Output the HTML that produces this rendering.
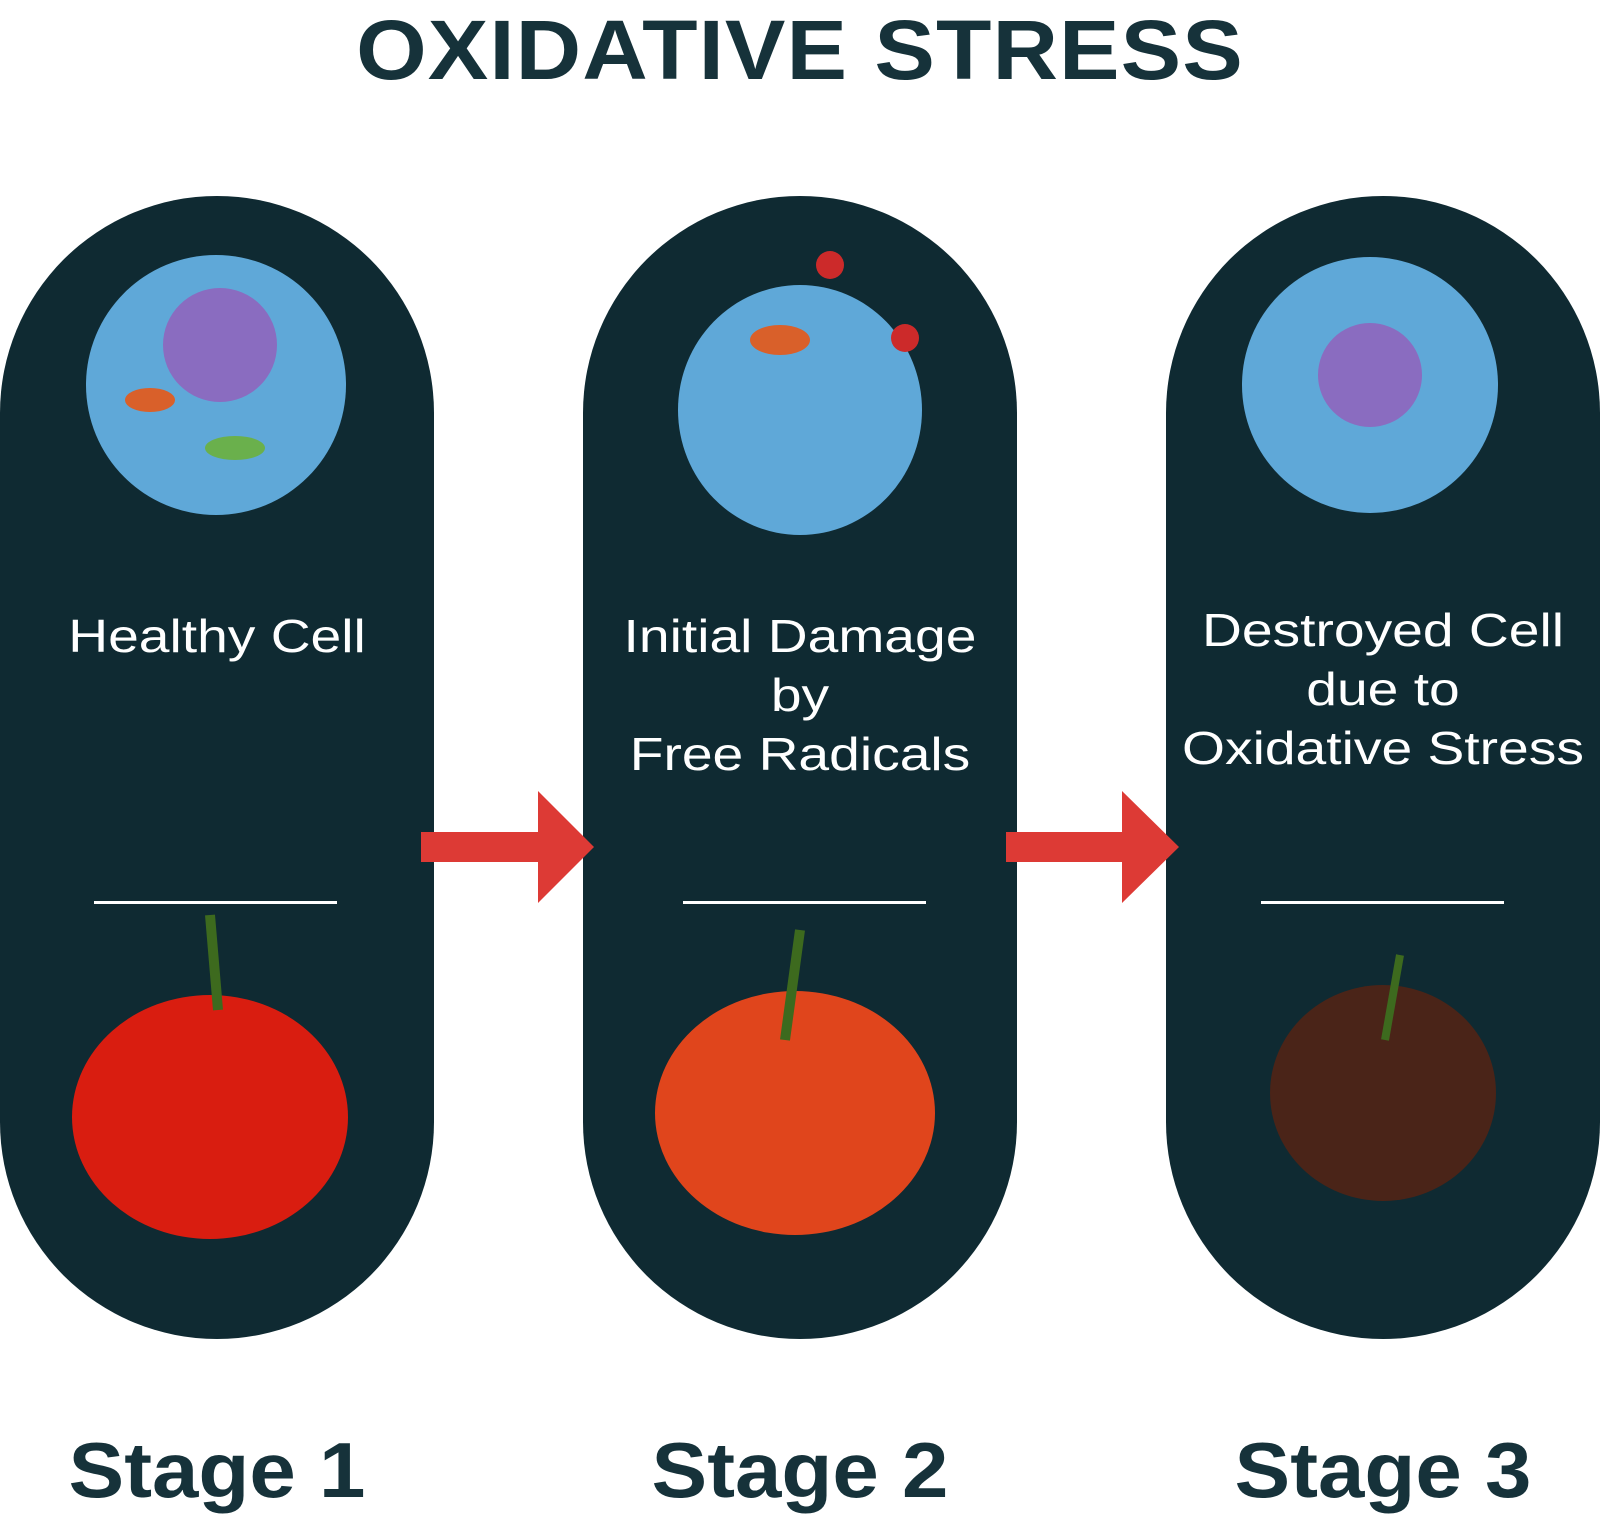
<!DOCTYPE html>
<html><head><meta charset="utf-8"><style>
body{margin:0;width:1600px;height:1514px;background:#fff;position:relative;overflow:hidden;font-family:"Liberation Sans",sans-serif}
.t{position:absolute;left:0;width:1600px;text-align:center;top:2px;font-size:84px;font-weight:bold;color:#16323a;letter-spacing:1px;transform:scaleX(1.08)}
.pill{position:absolute;top:196px;width:434px;height:1143px;border-radius:217px;background:#0f2a32}
.lab{position:absolute;width:434px;text-align:center;color:#fff;font-size:46px;line-height:59px;transform:scaleX(1.2)}
.hr{position:absolute;top:901px;height:3px;width:243px;background:#fff}
.st{position:absolute;top:1425px;font-size:78px;font-weight:900;color:#16323a;width:434px;text-align:center;transform:scaleX(1.07)}
</style></head><body>
<div class="t">OXIDATIVE STRESS</div>
<div class="pill" style="left:0"></div>
<div class="pill" style="left:583px"></div>
<div class="pill" style="left:1166px"></div>
<svg width="1600" height="1514" style="position:absolute;left:0;top:0">
<polygon points="421,832 538,832 538,791 594,847 538,903 538,862 421,862" fill="#dd3a35"/>
<polygon points="1006,832 1122,832 1122,791 1179,847 1122,903 1122,862 1006,862" fill="#dd3a35"/>
<circle cx="216" cy="385" r="130" fill="#5fa8d8"/><circle cx="220" cy="345" r="57" fill="#8a6cc0"/>
<ellipse cx="150" cy="400" rx="25" ry="12" fill="#d9602a"/><ellipse cx="235" cy="448" rx="30" ry="12" fill="#6ab04c"/>
<ellipse cx="800" cy="410" rx="122" ry="125" fill="#5fa8d8"/><ellipse cx="780" cy="340" rx="30" ry="15" fill="#d9602a"/>
<circle cx="830" cy="265" r="14" fill="#cc2a2a"/><circle cx="905" cy="338" r="14" fill="#cc2a2a"/>
<circle cx="1370" cy="385" r="128" fill="#5fa8d8"/><circle cx="1370" cy="375" r="52" fill="#8a6cc0"/>
<ellipse cx="210" cy="1117" rx="138" ry="122" fill="#d91d10"/>
<path d="M210 915 L218 1010" stroke="#3d6a1e" stroke-width="10"/>
<ellipse cx="795" cy="1113" rx="140" ry="122" fill="#e0451c"/>
<path d="M800 930 L785 1040" stroke="#3d6a1e" stroke-width="10"/>
<ellipse cx="1383" cy="1093" rx="113" ry="108" fill="#4a2418"/>
<path d="M1400 955 L1385 1040" stroke="#3d6a1e" stroke-width="8"/>
</svg>
<div class="lab" style="left:0;top:607px">Healthy Cell</div>
<div class="lab" style="left:583px;top:607px">Initial Damage<br>by<br>Free Radicals</div>
<div class="lab" style="left:1166px;top:601px">Destroyed Cell<br>due to<br>Oxidative Stress</div>
<div class="hr" style="left:94px"></div>
<div class="hr" style="left:683px"></div>
<div class="hr" style="left:1261px"></div>
<div class="st" style="left:0">Stage 1</div>
<div class="st" style="left:583px">Stage 2</div>
<div class="st" style="left:1166px">Stage 3</div>
</body></html>
